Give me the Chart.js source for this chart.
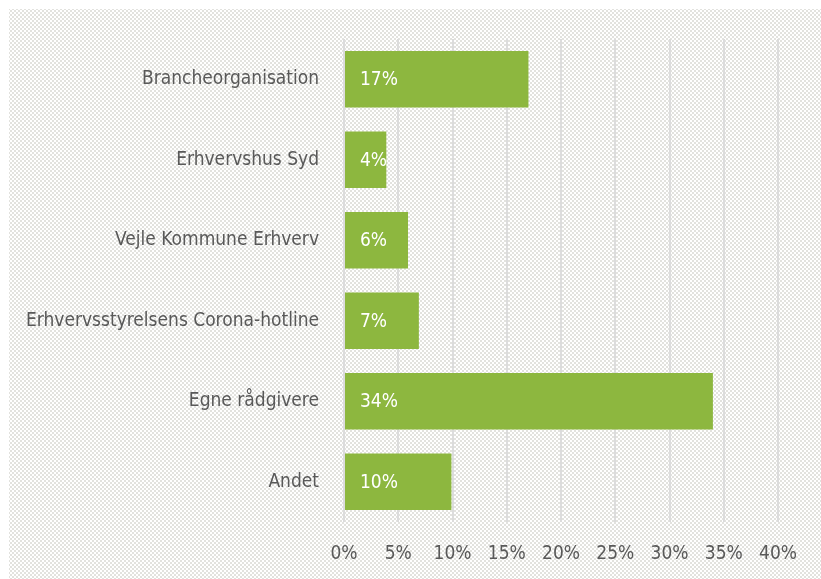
<!DOCTYPE html>
<html>
<head>
<meta charset="utf-8">
<script src="https://cdn.jsdelivr.net/npm/chart.js@4/dist/chart.umd.min.js"></script>
<style>
  html, body { margin: 0; padding: 0; background: #ffffff; }
  #wrap { width: 821px; height: 579px; position: relative; }
</style>
</head>
<body>
<div id="wrap"><canvas id="c" width="821" height="579"></canvas></div>
<script>
const categories = [
  "Brancheorganisation",
  "Erhvervshus Syd",
  "Vejle Kommune Erhverv",
  "Erhvervsstyrelsens Corona-hotline",
  "Egne rådgivere",
  "Andet"
];
const values = [17, 3.9, 5.9, 6.9, 34, 9.9];
const tickValues = [0, 5, 10, 15, 20, 25, 30, 35, 40];

const FONT = "'DejaVu Sans Condensed', 'DejaVu Sans', sans-serif";

const bgPlugin = {
  id: 'bgPattern',
  beforeDraw(chart) {
    const ctx = chart.ctx;
    const tile = document.createElement('canvas');
    tile.width = 4; tile.height = 4;
    const t = tile.getContext('2d');
    t.fillStyle = '#ffffff'; t.fillRect(0, 0, 4, 4);
    t.fillStyle = '#e2e2de';
    t.fillRect(0, 0, 2, 2);
    t.fillRect(2, 2, 2, 2);
    ctx.save();
    ctx.fillStyle = '#ffffff';
    ctx.fillRect(0, 0, chart.width, chart.height);
    ctx.fillStyle = ctx.createPattern(tile, 'repeat');
    ctx.fillRect(9, 9, chart.width - 9, chart.height - 9);
    ctx.restore();
  }
};

const labelPlugin = {
  id: 'barLabels',
  afterDatasetsDraw(chart) {
    const ctx = chart.ctx;
    const meta = chart.getDatasetMeta(0);
    ctx.save();
    ctx.fillStyle = '#ffffff';
    ctx.font = "19px " + FONT;
    ctx.textAlign = 'left';
    ctx.textBaseline = 'middle';
    meta.data.forEach((bar, i) => {
      ctx.fillText(Math.round(values[i]) + '%', bar.base + 15, bar.y + 1);
    });
    ctx.restore();
  }
};

new Chart(document.getElementById('c'), {
  type: 'bar',
  data: {
    labels: categories,
    datasets: [{
      data: values,
      backgroundColor: '#8db73f',
      borderWidth: 0,
      categoryPercentage: 1.0,
      barPercentage: 0.7
    }]
  },
  options: {
    indexAxis: 'y',
    responsive: false,
    animation: false,
    devicePixelRatio: 1,
    layout: { padding: { top: 39, right: 43, bottom: 0, left: 0 } },
    plugins: { legend: { display: false }, tooltip: { enabled: false } },
    scales: {
      x: {
        min: 0, max: 40,
        afterBuildTicks(scale) { scale.ticks = tickValues.map(v => ({ value: v })); },
        afterFit(scale) { scale.height = 57; },
        grid: { color: '#dcdcdc', lineWidth: 2, drawTicks: false },
        border: { display: false },
        ticks: {
          color: '#595959',
          font: { family: FONT, size: 19 },
          padding: 21,
          maxRotation: 0,
          callback: (v) => v + '%'
        }
      },
      y: {
        afterFit(scale) { scale.width = 344; },
        grid: { display: false, drawTicks: false },
        border: { display: false },
        ticks: {
          color: '#595959',
          font: { family: FONT, size: 19 },
          padding: 25
        }
      }
    }
  },
  plugins: [bgPlugin, labelPlugin]
});
</script>
</body>
</html>
